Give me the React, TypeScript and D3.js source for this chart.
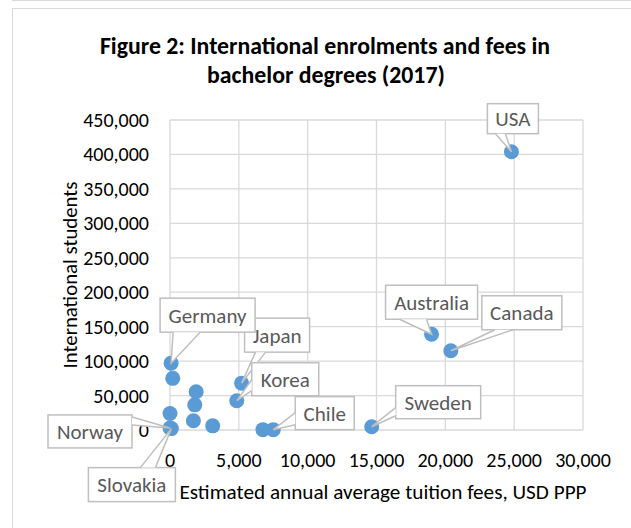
import * as d3 from "d3";
import React from "react";

// data
const countries = [
  "USA", "Australia", "Canada", "Sweden", "Chile", "", "Japan", "Korea",
  "Germany", "", "", "", "", "", "", "Norway", "Slovakia",
];
const fees = [
  24800, 19000, 20400, 14650, 7500, 6750, 5200, 4850,
  80, 200, 1900, 1800, 1700, 3100, 0, 0, 100,
];
const students = [
  404000, 139000, 115000, 4800, 500, 500, 68000, 42500,
  97000, 75000, 55500, 36500, 13500, 6000, 24000, 3000, 2000,
];
const xTicks = [0, 5000, 10000, 15000, 20000, 25000, 30000];
const yTicks = [0, 50000, 100000, 150000, 200000, 250000, 300000, 350000, 400000, 450000];

// callout box placement relative to its point (px), and wedge base on a side
type Callout = { name: string; dx: number; dy: number; w: number; h: number; side: string; a: number; b: number };
const callouts: Callout[] = [
  { name: "USA", dx: -24, dy: -48, w: 51, h: 30, side: "bottom", a: 8, b: 18 },
  { name: "Australia", dx: -46, dy: -49, w: 92, h: 34, side: "bottom", a: 14, b: 41 },
  { name: "Canada", dx: 31, dy: -55, w: 80, h: 34, side: "bottom", a: 13, b: 31 },
  { name: "Sweden", dx: 24, dy: -41, w: 85, h: 33, side: "left", a: 22, b: 30 },
  { name: "Chile", dx: 22, dy: -33, w: 59, h: 33, side: "left", a: 16, b: 28 },
  { name: "Japan", dx: 3, dy: -65, w: 65, h: 34, side: "bottom", a: 11, b: 21 },
  { name: "Korea", dx: 15, dy: -38, w: 67, h: 33, side: "left", a: 17, b: 28 },
  { name: "Germany", dx: -11, dy: -65, w: 95, h: 34, side: "bottom", a: 13, b: 40 },
  { name: "Norway", dx: -122, dy: -13, w: 84, h: 33, side: "right", a: 2, b: 10 },
  { name: "Slovakia", dx: -83, dy: 39, w: 87, h: 34, side: "top", a: 52, b: 67 },
];

const width = 631;
const height = 528;
const left = 170;
const right = 583;
const top = 120;
const bottom = 430;
const font = "Carlito, Calibri, Lato, sans-serif";
const grid = "#d9d9d9";
const dot = "#5b9bd5";
const labelGray = "#595959";
const boxGray = "#bfbfbf";

export default function App() {
  const x = d3.scaleLinear().domain([0, 30000]).range([left, right]);
  const y = d3.scaleLinear().domain([0, 450000]).range([bottom, top]);
  const fmt = d3.format(",");

  const points = countries.map((c, i) => ({ name: c, px: x(fees[i]), py: y(students[i]) }));

  return (
    <svg width={width} height={height} style={{ position: "absolute", left: 0, top: 0, background: "#fff" }}>
      {/* frame */}
      <line x1={12} x2={width} y1={0.5} y2={0.5} stroke={grid} />
      <rect x={12.5} y={8.5} width={700} height={600} fill="#fff" stroke={grid} />

      {/* title */}
      <text x={325} y={54} textAnchor="middle" fontFamily={font} fontWeight="bold" fontSize={23.8} fill="#000">
        Figure 2: International enrolments and fees in
      </text>
      <text x={326} y={83} textAnchor="middle" fontFamily={font} fontWeight="bold" fontSize={23.8} fill="#000">
        bachelor degrees (2017)
      </text>

      {/* gridlines */}
      {yTicks.map((t) => (
        <line key={"gy" + t} x1={left} x2={right} y1={y(t)} y2={y(t)} stroke={grid} strokeWidth={1.3} />
      ))}
      {xTicks.map((t) => (
        <line key={"gx" + t} x1={x(t)} x2={x(t)} y1={top} y2={bottom} stroke={grid} strokeWidth={1.3} />
      ))}

      {/* tick labels */}
      {yTicks.map((t) => (
        <text key={"ty" + t} x={149} y={y(t)} dy="0.35em" textAnchor="end" fontFamily={font} fontSize={20} fill="#000">
          {fmt(t)}
        </text>
      ))}
      {xTicks.map((t) => (
        <text key={"tx" + t} x={x(t)} y={467} textAnchor="middle" fontFamily={font} fontSize={20} fill="#000">
          {fmt(t)}
        </text>
      ))}

      {/* axis titles */}
      <text transform="translate(77,275) rotate(-90)" textAnchor="middle" fontFamily={font} fontSize={20.8} fill="#000">
        International students
      </text>
      <text x={383} y={499} textAnchor="middle" fontFamily={font} fontSize={21.2} fill="#000">
        Estimated annual average tuition fees, USD PPP
      </text>

      {/* points */}
      {points.map((p, i) => (
        <circle key={"p" + i} cx={p.px} cy={p.py} r={7.5} fill={dot} />
      ))}

      {/* callouts */}
      {callouts.map((c) => {
        const p = points.find((q) => q.name === c.name)!;
        const bx = p.px + c.dx;
        const by = p.py + c.dy;
        let b1: [number, number];
        let b2: [number, number];
        if (c.side === "bottom") {
          b1 = [bx + c.a, by + c.h];
          b2 = [bx + c.b, by + c.h];
        } else if (c.side === "top") {
          b1 = [bx + c.a, by];
          b2 = [bx + c.b, by];
        } else if (c.side === "left") {
          b1 = [bx, by + c.a];
          b2 = [bx, by + c.b];
        } else {
          b1 = [bx + c.w, by + c.a];
          b2 = [bx + c.w, by + c.b];
        }
        const wedge = d3.path();
        wedge.moveTo(b1[0], b1[1]);
        wedge.lineTo(p.px, p.py);
        wedge.lineTo(b2[0], b2[1]);
        return (
          <g key={"c" + c.name}>
            <rect x={bx} y={by} width={c.w} height={c.h} fill="#fff" stroke={boxGray} strokeWidth={1.5} />
            <path d={wedge.toString()} fill="#fff" stroke={boxGray} strokeWidth={1.5} />
            <text x={bx + c.w / 2} y={by + c.h / 2} dy="0.35em" textAnchor="middle" fontFamily={font} fontSize={21} fill={labelGray}>
              {c.name}
            </text>
          </g>
        );
      })}
    </svg>
  );
}
